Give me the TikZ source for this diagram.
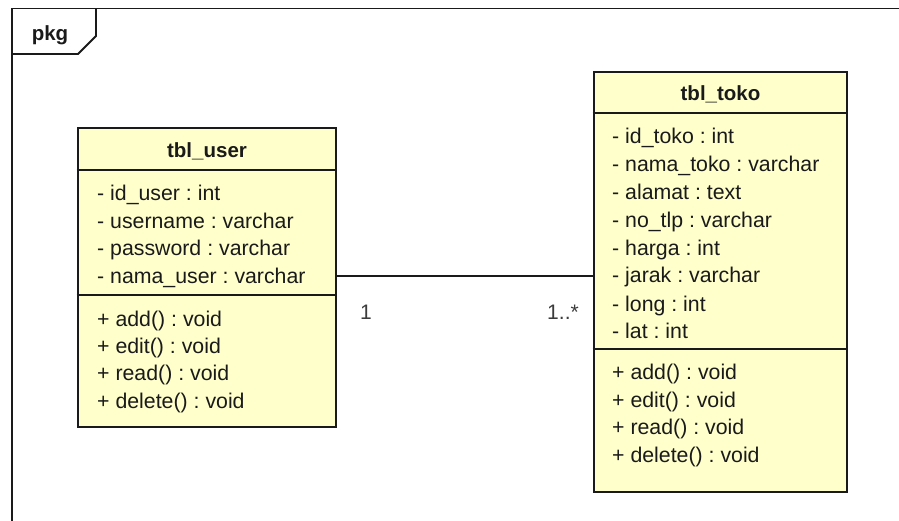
\documentclass[tikz,border=0pt]{standalone}
\usepackage{fontspec}
\setmainfont{Liberation Sans}
\frenchspacing
\definecolor{classfill}{HTML}{FFFFCC}
\definecolor{ink}{HTML}{1A1A1A}
\tikzset{
  classbox/.style={draw=ink, line width=2.6pt, fill=classfill, rectangle, inner sep=0pt},
  sepline/.style={draw=ink, line width=1.3pt},
  framepath/.style={draw=ink, line width=1.8pt},
  member/.style={anchor=base west, inner sep=0pt, font=\fontsize{21.3}{24}\selectfont, text=ink},
  title/.style={anchor=base, inner sep=0pt, font=\fontsize{20.5}{24}\selectfont\bfseries, text=ink},
  mult/.style={anchor=base, inner sep=0pt, font=\fontsize{21}{24}\selectfont, text=ink!85},
  assocline/.style={draw=ink, line width=1.3pt}
}
\begin{document}
\begin{tikzpicture}[x=1pt,y=-1pt]
\useasboundingbox (0,0) rectangle (899,521);
\fill[white] (0,0) rectangle (899,521);

% package frame with its name tab
\draw[framepath] (12,521) -- (12,8.5) -- (899,8.5);
\draw[framepath] (12,54) -- (78,54) -- (96,36) -- (96,8.5);
\node[title] (pkg) at (50,41) {pkg};

% class tbl_user
\node[classbox, minimum width=258pt, minimum height=299pt] (user) at (207,277.5) {};
\draw[sepline] (user.west |- 0,170) -- (user.east |- 0,170);
\draw[sepline] (user.west |- 0,295) -- (user.east |- 0,295);
\node[title] (usertitle) at (207,158) {tbl\_user};
\node[member] (u1) at (97,201) {- id\_user : int};
\node[member] (u2) at (97,228.5) {- username : varchar};
\node[member] (u3) at (97,256) {- password : varchar};
\node[member] (u4) at (97,283.5) {- nama\_user : varchar};
\node[member] (u5) at (97,326) {+ add() : void};
\node[member] (u6) at (97,353) {+ edit() : void};
\node[member] (u7) at (97,380.5) {+ read() : void};
\node[member] (u8) at (97,408.5) {+ delete() : void};

% class tbl_toko
\node[classbox, minimum width=253pt, minimum height=420pt] (toko) at (720.5,282) {};
\draw[sepline] (toko.west |- 0,113) -- (toko.east |- 0,113);
\draw[sepline] (toko.west |- 0,349) -- (toko.east |- 0,349);
\node[title] (tokotitle) at (720.5,101) {tbl\_toko};
\node[member] (t1) at (612,144) {- id\_toko : int};
\node[member] (t2) at (612,172) {- nama\_toko : varchar};
\node[member] (t3) at (612,200) {- alamat : text};
\node[member] (t4) at (612,227.5) {- no\_tlp : varchar};
\node[member] (t5) at (612,255.5) {- harga : int};
\node[member] (t6) at (612,283) {- jarak : varchar};
\node[member] (t7) at (612,311) {- long : int};
\node[member] (t8) at (612,338.5) {- lat : int};
\node[member] (t9) at (612,379.5) {+ add() : void};
\node[member] (t10) at (612,407.5) {+ edit() : void};
\node[member] (t11) at (612,434.5) {+ read() : void};
\node[member] (t12) at (612,462.5) {+ delete() : void};

% association with multiplicities
\coordinate (assoc) at (0,276);
\draw[assocline] (user.east |- assoc) -- (toko.west |- assoc);
\node[mult] (m1) at (366,319) {1};
\node[mult] (m2) at (563,319) {1..*};
\end{tikzpicture}
\end{document}
